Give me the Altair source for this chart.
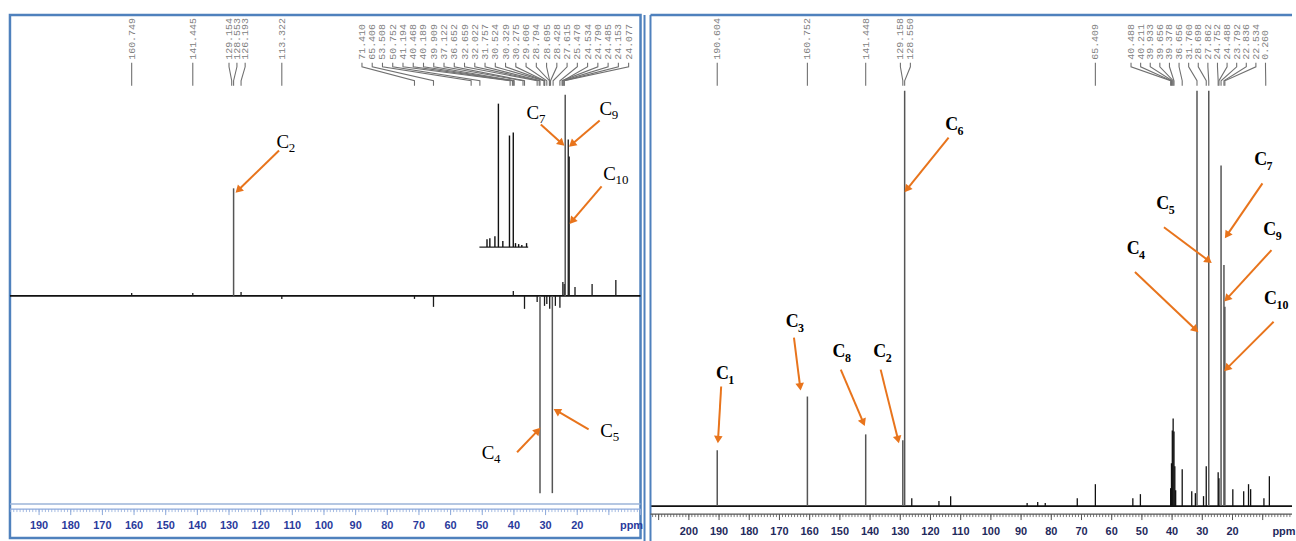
import math
import altair as alt
import pandas as pd

# ============ values ============
# ---------- left panel : DEPT-135 ----------
L_STRONG_PPM = [128.553, 23.792, 31.757, 27.862]
L_STRONG_INT = [108, 202, -198, -198]
L_WEAK_PPM = [160.749, 141.445, 126.193, 113.322, 71.410, 65.406, 40.189, 36.652,
              32.659, 30.329, 29.606, 28.695, 26.900, 25.470, 24.534, 24.077,
              22.836, 22.534, 20.700, 15.300, 7.800]
L_WEAK_INT = [3, 3, 4, -3, -3, -11, 5, -13, -6, -10, -8, -13, -10, -12, 14, 12,
              157, 140, 9, 12, 16]
# expanded inset drawn above the baseline
L_INSET_LEVEL = 49
L_INSET_SPAN = [50.9, 35.5]
L_INSET_PPM = [48.5, 47.6, 46.0, 44.9, 43.5, 41.4, 40.2, 39.5, 38.5, 37.5, 36.0]
L_INSET_INT = [57, 58, 60, 193, 55, 161, 164, 53, 52, 51, 53]

L_SINGLE_LABELS = ["160.749", "141.445", "113.322"]
L_PAIR_LABELS = ["129.154", "128.553", "126.193"]
L_PAIR_SLOTS = [130.0, 127.5, 124.9]
L_GROUP_LABELS = ["71.410", "65.406", "53.508", "50.752", "41.194", "40.468", "40.189",
                  "39.909", "37.122", "36.652", "32.659", "32.022", "31.757", "30.524",
                  "30.329", "30.275", "29.606", "28.794", "28.695", "28.428", "27.615",
                  "25.470", "24.534", "24.790", "24.485", "24.153", "24.077"]
L_GROUP_FIRST_SLOT = 88.0
L_GROUP_STEP = 3.24

L_ANN_SUB = ["2", "7", "9", "10", "4", "5"]
L_ANN_PPM = [113.0, 34.0, 11.0, 9.8, 48.2, 10.7]
L_ANN_INT = [154, 184, 188, 122, -158, -136]
L_TAIL_PPM = [114.2, 31.5, 12.9, 12.3, 39.0, 16.4]
L_TAIL_INT = [146, 172, 176, 110, -157, -134]
L_HEAD_PPM = [126.8, 25.2, 21.4, 21.4, 32.7, 26.1]
L_HEAD_INT = [107, 154, 153, 76, -136, -116]

# ---------- right panel : 13C ----------
R_STRONG_PPM = [190.604, 160.752, 141.448, 129.158, 128.550, 31.760, 27.862,
                23.792, 22.836, 22.534]
R_STRONG_INT = [56, 110, 72, 66, 417, 417, 417, 342, 242, 200]
R_WEAK_PPM = [126.193, 117.2, 113.322, 88.0, 84.5, 82.0, 71.4, 65.409, 53.0, 50.5,
              40.488, 40.211, 39.933, 39.656, 39.378, 39.100, 38.822, 36.656, 33.5,
              32.3, 29.6, 28.698, 24.752, 24.488, 19.9, 16.3, 14.7, 14.0, 9.6, 7.8]
R_WEAK_INT = [8, 5, 10, 3, 4, 3, 8, 22, 8, 12, 18, 43, 76, 88, 75, 40, 16, 37, 15,
              13, 10, 40, 34, 28, 17, 15, 22, 17, 8, 30]

R_SINGLE_LABELS = ["190.604", "160.752", "141.448", "65.409"]
R_PAIR_LABELS = ["129.158", "128.550"]
R_PAIR_SLOTS = [129.96, 126.66]
R_GROUP_LABELS = ["40.488", "40.211", "39.933", "39.656", "39.378", "36.656", "31.760",
                  "28.698", "27.862", "24.752", "24.488", "23.792", "22.836", "22.534",
                  "0.260"]
R_GROUP_TARGETS = [40.488, 40.211, 39.933, 39.656, 39.378, 36.656, 31.760, 28.698,
                   27.862, 24.752, 24.488, 23.792, 22.836, 22.534, 9.0]
R_GROUP_FIRST_SLOT = 53.6
R_GROUP_STEP = 3.18

R_ANN_SUB = ["6", "1", "3", "8", "2", "5", "4", "7", "9", "10"]
R_ANN_PPM = [113.0, 188.9, 165.8, 150.3, 136.8, 43.1, 52.9, 10.7, 7.7, 7.4]
R_ANN_INT = [383, 133, 185, 155, 155, 303, 258, 347, 277, 208]
R_TAIL_PPM = [114.0, 189.3, 165.2, 149.7, 136.5, 42.7, 52.3, 10.1, 7.1, 6.4]
R_TAIL_INT = [370, 120, 169, 137, 137, 280, 235, 324, 257, 185]
R_HEAD_PPM = [127.55, 190.3, 163.2, 142.4, 130.85, 28.2, 32.5, 21.6, 21.6, 21.6]
R_HEAD_INT = [319, 68, 121, 85, 68, 247, 178, 273, 209, 139]

# axis (ruler) labels
L_TICK_LABELS = [190, 180, 170, 160, 150, 140, 130, 120, 110, 100, 90, 80, 70, 60, 50, 40, 30, 20]
R_TICK_LABELS = [200, 190, 180, 170, 160, 150, 140, 130, 120, 110, 100, 90, 80, 70, 60, 50, 40, 30, 20]

# ============ layout ============
WL, HL = 633, 525
WR, HR = 644, 529
L_XDOM = [0.0, 199.2]
R_XDOM = [0.3, 212.7]
L_YDOM = [-243, 282]
R_YDOM = [-36, 493]
ORANGE = "#e8741c"
FRAME = "#4f81bd"


def leader_df(labels, slots, targets, ys):
    rows = []
    for lab, s, t in zip(labels, slots, targets):
        for o, (xx, yy) in enumerate([(s, ys[0]), (s, ys[1]), (t, ys[2]), (t, ys[3])]):
            rows.append({"lab": lab, "o": o, "ppm": xx, "y": yy})
    return pd.DataFrame(rows)


def arrow_df(subs, ap, ai, tp, ti, hp, hi, k):
    rows = []
    for s, a1, a2, t1, t2, h1, h2 in zip(subs, ap, ai, tp, ti, hp, hi):
        dx = (t1 - h1) * k
        dy = -(h2 - t2)
        ang = math.degrees(math.atan2(dx, -dy)) % 360
        rows.append({"sub": s, "c": "C", "lp": a1, "li": a2, "tp": t1, "ti": t2,
                     "hp": h1, "hi": h2, "ang": ang})
    return pd.DataFrame(rows)


def ruler_layers(xs, ys, xdom, lo, hi, ruler_y, minor_len, major_len, label_y, labels,
                 line_color, label_color):
    X = lambda f: alt.X(f, scale=xs, axis=None)
    out = []
    out.append(alt.Chart(pd.DataFrame({"a": [xdom[1]], "b": [xdom[0]]})).mark_rule(
        color=line_color, strokeWidth=1.2).encode(
        x=X("a:Q"), x2="b:Q", y=alt.Y(datum=ruler_y, scale=ys, axis=None)))
    minor = pd.DataFrame({"p": list(range(lo, hi + 1))})
    out.append(alt.Chart(minor).mark_rule(color=line_color, strokeWidth=0.8).encode(
        x=X("p:Q"), y=alt.Y(datum=ruler_y, scale=ys, axis=None),
        y2=alt.Y2(datum=ruler_y - minor_len)))
    major = pd.DataFrame({"p": list(range(10 * math.ceil(lo / 10), hi + 1, 10))})
    out.append(alt.Chart(major).mark_rule(color=line_color, strokeWidth=1).encode(
        x=X("p:Q"), y=alt.Y(datum=ruler_y, scale=ys, axis=None),
        y2=alt.Y2(datum=ruler_y - major_len)))
    lab = pd.DataFrame({"p": labels, "t": [str(v) for v in labels]})
    out.append(alt.Chart(lab).mark_text(
        font="Liberation Sans Narrow, Liberation Sans", fontSize=11, fontWeight="bold",
        color=label_color, align="center", baseline="middle").encode(
        x=X("p:Q"), y=alt.Y(datum=label_y, scale=ys, axis=None), text="t:N"))
    return out


def panel(W, H, xdom, ydom, strong, weak, labels, leaders, arrows, anchor_y,
          ruler, ppm_pos, ppm_color, strong_color, weak_color, ann_weight,
          ann_size, sub_size, extra):
    xs = alt.Scale(domain=xdom, reverse=True, nice=False, zero=False)
    ys = alt.Scale(domain=ydom, nice=False, zero=False)

    def X(f):
        return alt.X(f, scale=xs, axis=None)

    def Y(f):
        return alt.Y(f, scale=ys, axis=None)

    layers = []
    base = alt.Chart(pd.DataFrame({"a": [xdom[1]], "b": [xdom[0]]})).mark_rule(
        color="#111111", strokeWidth=1.6).encode(
        x=X("a:Q"), x2="b:Q", y=alt.Y(datum=0, scale=ys, axis=None))
    layers.append(base)

    wk = pd.DataFrame({"ppm": weak[0], "top": weak[1], "base": 0})
    layers.append(alt.Chart(wk).mark_rule(color=weak_color, strokeWidth=1.3).encode(
        x=X("ppm:Q"), y=Y("base:Q"), y2="top:Q"))
    st = pd.DataFrame({"ppm": strong[0], "top": strong[1], "base": 0})
    layers.append(alt.Chart(st).mark_rule(color=strong_color, strokeWidth=1.5).encode(
        x=X("ppm:Q"), y=Y("base:Q"), y2="top:Q"))

    layers += [e(xs, ys) for e in extra]
    layers += ruler_layers(xs, ys, xdom, *ruler)

    layers.append(alt.Chart(leaders).mark_line(color="#707070", strokeWidth=1.1).encode(
        x=X("ppm:Q"), y=Y("y:Q"), detail="lab:N", order="o:Q"))
    layers.append(alt.Chart(labels).mark_text(
        angle=270, align="left", baseline="middle", font="Liberation Mono",
        fontSize=10, color="#808080").encode(
        x=X("slot:Q"), y=alt.Y(datum=anchor_y, scale=ys, axis=None), text="lab:N"))

    layers.append(alt.Chart(arrows).mark_rule(color=ORANGE, strokeWidth=2).encode(
        x=X("tp:Q"), y=Y("ti:Q"), x2="hp:Q", y2="hi:Q"))
    layers.append(alt.Chart(arrows).mark_point(
        shape="triangle", filled=True, size=75, color=ORANGE, opacity=1).encode(
        x=X("hp:Q"), y=Y("hi:Q"), angle=alt.Angle("ang:Q", scale=None)))
    layers.append(alt.Chart(arrows).mark_text(
        font="Liberation Serif", fontSize=ann_size, fontWeight=ann_weight,
        color="#000000", align="center", baseline="middle").encode(
        x=X("lp:Q"), y=Y("li:Q"), text="c:N"))
    layers.append(alt.Chart(arrows).mark_text(
        font="Liberation Serif", fontSize=sub_size, fontWeight=ann_weight,
        color="#000000", align="left", baseline="middle", dx=6, dy=6).encode(
        x=X("lp:Q"), y=Y("li:Q"), text="sub:N"))

    layers.append(alt.Chart(pd.DataFrame({"t": ["ppm"], "p": [ppm_pos[0]]})).mark_text(
        font="Liberation Sans Narrow, Liberation Sans", fontSize=11, fontWeight="bold",
        color=ppm_color, align="left", baseline="middle").encode(
        x=X("p:Q"), y=alt.Y(datum=ppm_pos[1], scale=ys, axis=None), text="t:N"))

    return alt.layer(*layers).properties(width=W, height=H)


# ---------- left panel ----------
L_slots_group = [L_GROUP_FIRST_SLOT - i * L_GROUP_STEP for i in range(len(L_GROUP_LABELS))]
l_lab = L_SINGLE_LABELS + L_PAIR_LABELS + L_GROUP_LABELS
l_slot = [float(v) for v in L_SINGLE_LABELS] + L_PAIR_SLOTS + L_slots_group
l_tgt = [float(v) for v in l_lab]
l_labels = pd.DataFrame({"lab": l_lab, "slot": l_slot})
l_leaders = leader_df(l_lab, l_slot, l_tgt, [234, 230, 216, 211])
l_arrows = arrow_df(L_ANN_SUB, L_ANN_PPM, L_ANN_INT, L_TAIL_PPM, L_TAIL_INT,
                    L_HEAD_PPM, L_HEAD_INT, WL / (L_XDOM[1] - L_XDOM[0]))


def inset_base(xs, ys):
    d = pd.DataFrame({"a": [L_INSET_SPAN[0]], "b": [L_INSET_SPAN[1]], "y": [L_INSET_LEVEL]})
    return alt.Chart(d).mark_rule(color="#222222", strokeWidth=1.3).encode(
        x=alt.X("a:Q", scale=xs, axis=None), x2="b:Q", y=alt.Y("y:Q", scale=ys, axis=None))


def inset_peaks(xs, ys):
    d = pd.DataFrame({"ppm": L_INSET_PPM, "top": L_INSET_INT, "base": L_INSET_LEVEL})
    return alt.Chart(d).mark_rule(color="#111111", strokeWidth=1.4).encode(
        x=alt.X("ppm:Q", scale=xs, axis=None), y=alt.Y("base:Q", scale=ys, axis=None),
        y2="top:Q")


def left_band(xs, ys):
    return alt.Chart(pd.DataFrame({"y": [-209]})).mark_rule(
        color="#9db5d9", strokeWidth=1.5).encode(
        x=alt.value(0), x2=alt.value(WL), y=alt.Y("y:Q", scale=ys, axis=None))


def left_double(xs, ys):
    return alt.Chart(pd.DataFrame({"k": [1]})).mark_rule(
        color=FRAME, strokeWidth=2).encode(
        x=alt.value(WL + 4), y=alt.value(0), y2=alt.value(HL + 3))


left = panel(WL, HL, L_XDOM, L_YDOM, (L_STRONG_PPM, L_STRONG_INT),
             (L_WEAK_PPM, L_WEAK_INT), l_labels, l_leaders, l_arrows, 237,
             (0, 199, -214, 3, 6, -231, L_TICK_LABELS, "#8eaadb", "#2a3a9c"),
             (6.5, -231), "#2a3a9c", "#555555", "#1a1a1a", "normal", 19, 13,
             [inset_base, inset_peaks, left_band, left_double])
left = left.properties(view=alt.ViewBackground(stroke=FRAME, strokeWidth=2.5))

# ---------- right panel ----------
R_slots_group = [R_GROUP_FIRST_SLOT - i * R_GROUP_STEP for i in range(len(R_GROUP_LABELS))]
r_lab = R_SINGLE_LABELS + R_PAIR_LABELS + R_GROUP_LABELS
r_slot = [float(v) for v in R_SINGLE_LABELS] + R_PAIR_SLOTS + R_slots_group
r_tgt = [float(v) for v in R_SINGLE_LABELS] + [float(v) for v in R_PAIR_LABELS] + R_GROUP_TARGETS
r_labels = pd.DataFrame({"lab": r_lab, "slot": r_slot})
r_leaders = leader_df(r_lab, r_slot, r_tgt, [445, 441, 427, 422])
r_arrows = arrow_df(R_ANN_SUB, R_ANN_PPM, R_ANN_INT, R_TAIL_PPM, R_TAIL_INT,
                    R_HEAD_PPM, R_HEAD_INT, WR / (R_XDOM[1] - R_XDOM[0]))


def right_top(xs, ys):
    return alt.Chart(pd.DataFrame({"k": [1]})).mark_rule(
        color=FRAME, strokeWidth=2.5).encode(
        x=alt.value(0), x2=alt.value(WR), y=alt.value(0))


def right_left(xs, ys):
    return alt.Chart(pd.DataFrame({"k": [1]})).mark_rule(
        color=FRAME, strokeWidth=2).encode(
        x=alt.value(0), y=alt.value(0), y2=alt.value(HR))


right = panel(WR, HR, R_XDOM, R_YDOM, (R_STRONG_PPM, R_STRONG_INT),
              (R_WEAK_PPM, R_WEAK_INT), r_labels, r_leaders, r_arrows, 448,
              (1, 212, -8, 3, 6, -26, R_TICK_LABELS, "#555555", "#1f2a5c"),
              (6.8, -26), "#1f2a5c", "#555555", "#111111", "bold", 18, 12,
              [right_top, right_left])
right = right.properties(view=alt.ViewBackground(strokeWidth=0))

chart = alt.hconcat(left, right, spacing=10, bounds="flush").properties(
    padding={"left": 7, "top": 11, "right": 0, "bottom": 0},
    background="white")

chart.save("out.html", embed_options={"renderer": "svg", "actions": False})
